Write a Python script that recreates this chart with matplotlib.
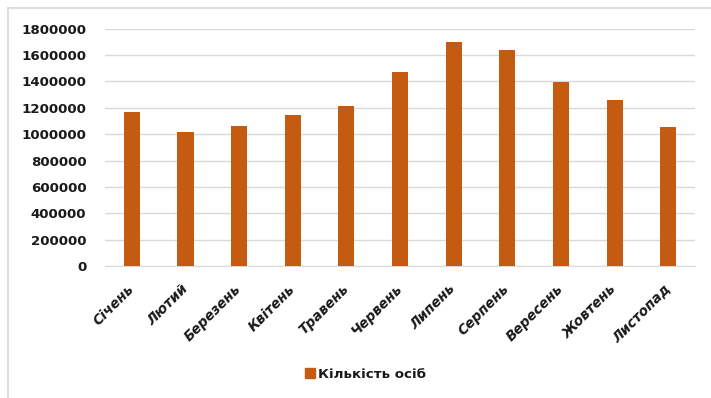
import matplotlib.pyplot as plt
from matplotlib.lines import Line2D

# Monthly counts
months = ['Січень', 'Лютий', 'Березень', 'Квітень', 'Травень', 'Червень',
          'Липень', 'Серпень', 'Вересень', 'Жовтень', 'Листопад']
persons = [1170000, 1013000, 1063000, 1147000, 1213000, 1473000,
           1697000, 1638000, 1395000, 1261000, 1053000]
y_ticks = [0, 200000, 400000, 600000, 800000, 1000000, 1200000,
           1400000, 1600000, 1800000]

bar_color = '#C55A11'
text_color = '#1a1a1a'

fig = plt.figure(figsize=(7.11, 3.98), dpi=100)
ax = fig.add_axes([105 / 711, 1 - 266 / 398, 590 / 711, (266 - 28.7) / 398])

x = range(len(months))
ax.bar(x, persons, width=0.3, color=bar_color, zorder=3)

ax.set_xlim(-0.5, len(months) - 0.5)
ax.set_ylim(0, 1800000)
ax.set_yticks(y_ticks)
ax.set_yticklabels([str(v) for v in y_ticks], fontsize=9.6,
                   fontweight='bold', color=text_color)
ax.set_xticks(list(x))
ax.set_xticklabels(months, rotation=45, ha='right', va='center',
                   rotation_mode='anchor', fontsize=9.8, fontweight='bold',
                   fontstyle='italic', color=text_color)

ax.grid(axis='y', color='#d9d9d9', linewidth=1, zorder=0)
for side in ['top', 'right', 'left']:
    ax.spines[side].set_visible(False)
ax.spines['bottom'].set_color('#d9d9d9')
ax.tick_params(axis='both', length=0)
ax.tick_params(axis='y', pad=13.5)
ax.tick_params(axis='x', pad=15)

# Legend below the chart
handle = Line2D([], [], marker='s', linestyle='none', markersize=7,
                color=bar_color)
fig.legend([handle], ['Кількість осіб'], loc='center',
           bbox_to_anchor=(365 / 711, 1 - 374 / 398), frameon=False,
           handletextpad=0.2, handlelength=0.8,
           prop={'size': 9.6, 'weight': 'bold'}, labelcolor=text_color)

# Chart area frame (top and left edges)
fx = 8 / 711
fy = 1 - 8 / 398
fig.add_artist(Line2D([fx, 1.0], [fy, fy], transform=fig.transFigure,
                      color='#d9d9d9', linewidth=1.2))
fig.add_artist(Line2D([fx, fx], [0.0, fy], transform=fig.transFigure,
                      color='#d9d9d9', linewidth=1.2))

fig.savefig('out.png', dpi=100)
